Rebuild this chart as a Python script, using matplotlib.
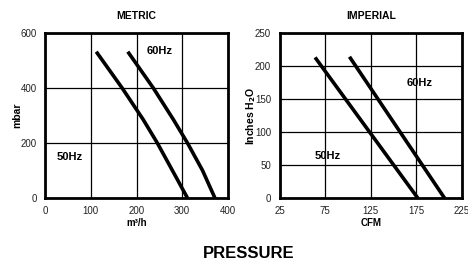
import matplotlib
matplotlib.use("Agg")
import matplotlib.pyplot as plt

# ---- curve data ----
metric_50_flow = [112, 168.6, 214.7, 245.5, 278.5, 311.4]
metric_50_press = [532, 400, 285, 200, 100, 0]
metric_60_flow = [181, 236.7, 280.7, 311.4, 344.4, 371.4]
metric_60_press = [532, 400, 285, 200, 100, 0]

imp_50_flow = [64, 176.5]
imp_50_press = [213, 0]
imp_60_flow = [101.7, 205.8]
imp_60_press = [214, 0]

metric_xticks = [0, 100, 200, 300, 400]
metric_yticks = [0, 200, 400, 600]
imp_xticks = [25, 75, 125, 175, 225]
imp_yticks = [0, 50, 100, 150, 200, 250]

plt.rcParams["font.family"] = ["Liberation Sans", "DejaVu Sans"]
bold_font = ["Liberation Sans Narrow", "Liberation Sans", "DejaVu Sans"]


def style_axes(ax, xticks, yticks):
    ax.set_xticks(xticks)
    ax.set_yticks(yticks)
    ax.set_xlim(xticks[0], xticks[-1])
    ax.set_ylim(yticks[0], yticks[-1])
    ax.grid(True, color="black", linewidth=0.9)
    ax.set_axisbelow(True)
    for sp in ax.spines.values():
        sp.set_linewidth(2.0)
    ax.tick_params(length=0, pad=6, labelsize=7, labelcolor="#222222")


fig = plt.figure(figsize=(4.68, 2.64), dpi=100)

# Metric panel
ax1 = fig.add_axes([45 / 468, 66 / 264, 183 / 468, 165 / 264])
style_axes(ax1, metric_xticks, metric_yticks)
ax1.plot(metric_50_flow, metric_50_press, color="black", linewidth=2.6,
         solid_capstyle="butt", solid_joinstyle="round")
ax1.plot(metric_60_flow, metric_60_press, color="black", linewidth=2.6,
         solid_capstyle="butt", solid_joinstyle="round")
ax1.text(222, 535, "60Hz", fontsize=8, fontweight="bold", family=bold_font, va="center")
ax1.text(26, 150, "50Hz", fontsize=8, fontweight="bold", family=bold_font, va="center")
ax1.set_xlabel("m³/h", fontsize=7, fontweight="bold", family=bold_font, labelpad=1)
ax1.set_ylabel("mbar", fontsize=7.5, fontweight="bold", family=bold_font, labelpad=-1.5)
ax1.set_title("METRIC", fontsize=7.5, fontweight="bold", pad=10)

# Imperial panel
ax2 = fig.add_axes([279.5 / 468, 66 / 264, 182.5 / 468, 165 / 264])
style_axes(ax2, imp_xticks, imp_yticks)
ax2.plot(imp_50_flow, imp_50_press, color="black", linewidth=2.6, solid_capstyle="butt")
ax2.plot(imp_60_flow, imp_60_press, color="black", linewidth=2.6, solid_capstyle="butt")
ax2.text(164, 175, "60Hz", fontsize=8, fontweight="bold", family=bold_font, va="center")
ax2.text(64, 64, "50Hz", fontsize=8, fontweight="bold", family=bold_font, va="center")
ax2.set_xlabel("CFM", fontsize=7, fontweight="bold", family=bold_font, labelpad=1)
ax2.set_ylabel(r"Inches H$_\mathbf{2}$O", fontsize=7.5, fontweight="bold", family=bold_font,
               labelpad=-2.3)
ax2.set_title("IMPERIAL", fontsize=7.5, fontweight="bold", pad=10)

fig.text(249 / 468, 1 - 254 / 264, "PRESSURE", fontsize=12, fontweight="bold",
         ha="center", va="center")

fig.savefig("out.png", dpi=100)
